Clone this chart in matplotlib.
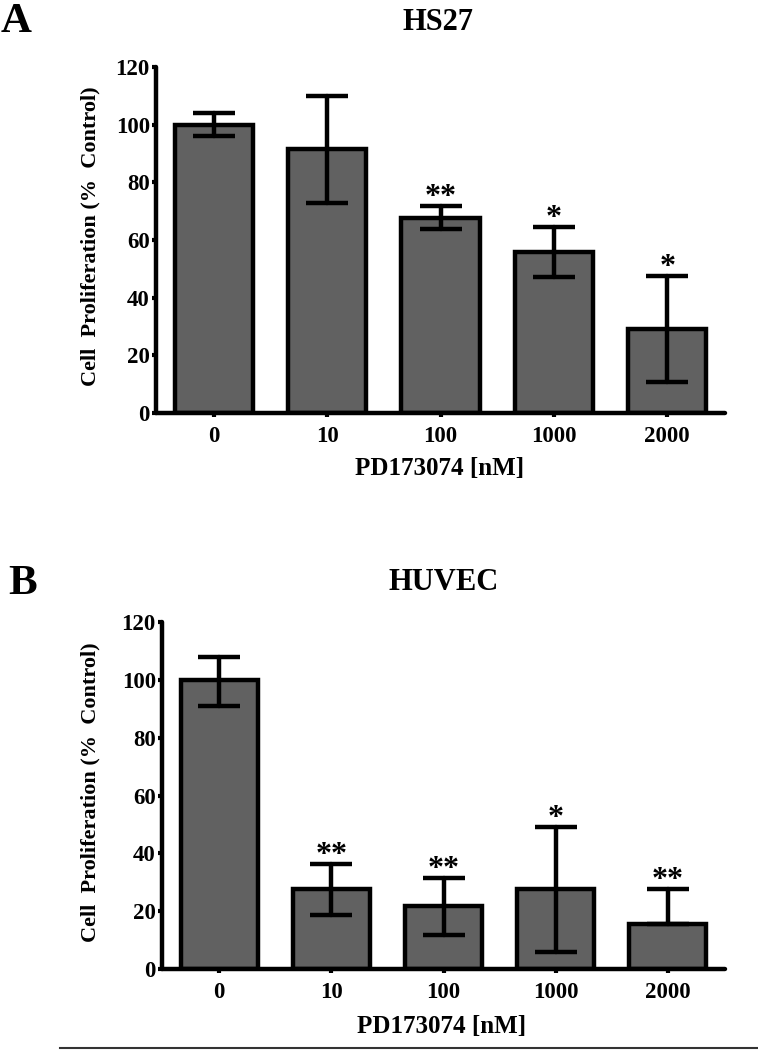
"""Two-panel bar chart: PD173074 dose vs cell proliferation (HS27 / HUVEC)."""
import matplotlib
matplotlib.use('Agg')
import matplotlib.pyplot as plt
import numpy as np

plt.rcParams['font.family'] = ['Liberation Serif', 'DejaVu Serif']
plt.rcParams['font.weight'] = 'bold'

doses = ['0', '10', '100', '1000', '2000']

hs27_mean = [100, 91.5, 67.6, 55.7, 29.0]
hs27_lo = [96, 73, 63.8, 47.0, 10.6]
hs27_hi = [104, 110, 71.7, 64.5, 47.4]
hs27_sig = ['', '', '**', '*', '*']

huvec_mean = [100, 27.5, 21.7, 27.5, 15.4]
huvec_lo = [91, 18.8, 11.8, 5.8, 15.4]
huvec_hi = [108, 36.2, 31.4, 49.1, 27.7]
huvec_sig = ['', '**', '**', '*', '**']

W, H, DPI = 758, 1050, 100
BAR_COLOR = '#616161'


def px_axes(fig, left, right, top, bottom):
    return fig.add_axes([left / W, 1 - bottom / H, (right - left) / W, (bottom - top) / H])


def panel(ax, mean, lo, hi, sig):
    x = np.arange(len(doses))
    mean = np.asarray(mean)
    yerr = [mean - np.asarray(lo), np.asarray(hi) - mean]
    ax.bar(x, mean, width=0.69, color=BAR_COLOR, edgecolor='black', linewidth=3.2, zorder=2)
    eb = ax.errorbar(x, mean, yerr=yerr, fmt='none', ecolor='black', elinewidth=3.2,
                     capsize=15, capthick=3.2, zorder=3)
    for c in eb[1]:
        c.set_solid_capstyle('round')
    for c in eb[2]:
        c.set_capstyle('round')
    # significance stars sit just above the upper cap
    for xi, h, s in zip(x, hi, sig):
        if s:
            ax.annotate(s, (xi, h), xytext=(0, 1), textcoords='offset points',
                        ha='center', va='baseline', fontsize=23, fontweight='bold')
    ax.set_xlim(-0.51, 4.51)
    ax.set_ylim(0, 120)
    ax.set_yticks(range(0, 121, 20))
    ax.set_xticks(x)
    ax.set_xticklabels(doses)
    for s in ('top', 'right'):
        ax.spines[s].set_visible(False)
    for s in ('left', 'bottom'):
        ax.spines[s].set_linewidth(3.2)
        ax.spines[s].set_capstyle('round')
    ax.tick_params(axis='y', length=3, width=3, pad=1.5, labelsize=16.5)
    ax.tick_params(axis='x', length=3, width=3, pad=6, labelsize=16.5)
    for t in ax.get_xticklabels() + ax.get_yticklabels():
        t.set_fontweight('bold')


fig = plt.figure(figsize=(W / DPI, H / DPI), dpi=DPI)

axA = px_axes(fig, 156, 725, 67, 413)
panel(axA, hs27_mean, hs27_lo, hs27_hi, hs27_sig)
axB = px_axes(fig, 162, 725, 622, 969)
panel(axB, huvec_mean, huvec_lo, huvec_hi, huvec_sig)

ylab = 'Cell  Proliferation (%  Control)'
xlab = 'PD173074 [nM]'
# panel letters, titles, axis labels (pixel positions from the reference)
fig.text(1 / W, 1 - 32 / H, 'A', fontsize=31, fontweight='bold', ha='left', va='baseline')
fig.text(8 / W, 1 - 594 / H, 'B', fontsize=31, fontweight='bold', ha='left', va='baseline')
fig.text(438 / W, 1 - 23 / H, 'HS27', fontsize=22, fontweight='bold', ha='center', va='center')
fig.text(444 / W, 1 - 582 / H, 'HUVEC', fontsize=22, fontweight='bold', ha='center', va='center')
fig.text(90 / W, 1 - 236 / H, ylab, fontsize=16, fontweight='bold', rotation=90,
         ha='center', va='center')
fig.text(90 / W, 1 - 792 / H, ylab, fontsize=16, fontweight='bold', rotation=90,
         ha='center', va='center')
fig.text(440 / W, 1 - 469 / H, xlab, fontsize=18, fontweight='bold', ha='center', va='center')
fig.text(442 / W, 1 - 1026 / H, xlab, fontsize=18, fontweight='bold', ha='center', va='center')

# thin rule along the bottom edge
fig.add_artist(plt.Line2D([60 / W, 1.0], [1 - 1048 / H, 1 - 1048 / H],
                          transform=fig.transFigure, color='#333333', linewidth=1.5))

fig.savefig('out.png', dpi=DPI)
